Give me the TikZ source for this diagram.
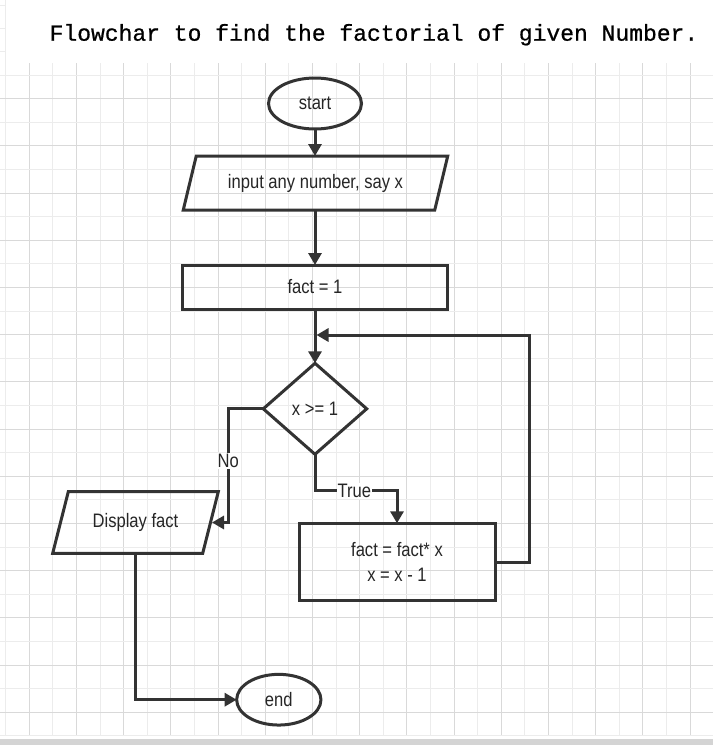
\documentclass[tikz,border=0pt]{standalone}
\usepackage{fontspec}
\usetikzlibrary{shapes.geometric,arrows.meta}
\newfontfamily\diafont[FakeStretch=0.85]{Liberation Sans}
\newfontfamily\titlefont[FakeBold=0.7]{Liberation Mono}
\definecolor{inkgray}{HTML}{333333}
\definecolor{gridlight}{HTML}{ECECEC}
\definecolor{griddark}{HTML}{D9D9D9}
\definecolor{barcol}{HTML}{D4D4D4}
\tikzset{
	flow/.style={draw=inkgray, line width=3pt, inner sep=0pt, outer sep=0pt, text=black!85,
		font=\diafont\fontsize{19.5}{25}\selectfont},
	terminal/.style={flow, ellipse},
	iobox/.style={flow, draw=none, rectangle},
	ioline/.style={draw=inkgray, line width=3pt, line join=miter},
	procbox/.style={flow, rectangle, align=center},
	decision/.style={flow, diamond},
	arrow/.style={draw=inkgray, line width=3pt, -{Triangle[length=12pt,width=13pt]}},
	lbl/.style={fill=white, inner sep=1pt, text=black!85, font=\diafont\fontsize{19.5}{25}\selectfont}
}
% slanted outline round an io node: #1 node name, #2 half the slant
\newcommand\drawslant[2]{%
	\draw[ioline] ([xshift=#2]#1.north west) -- ([xshift=#2]#1.north east)
		-- ([xshift=-#2]#1.south east) -- ([xshift=-#2]#1.south west) -- cycle;}
\begin{document}
\begin{tikzpicture}[x=1pt,y=-1pt]
		\useasboundingbox (0,0) rectangle (713,745);
		\fill[white] (0,0) rectangle (713,745);
		% grid paper
		\foreach \k in {0,...,29}{
			\ifodd\k \def\gc{griddark}\else \def\gc{gridlight}\fi
			\draw[\gc, line width=1pt] ({5.7+23.6*\k},63) -- ({5.7+23.6*\k},736);
		}
		\foreach \j in {0,...,28}{
			\ifodd\j \def\gc{griddark}\else \def\gc{gridlight}\fi
			\draw[\gc, line width=1pt] (0,{75+23.6*\j}) -- (713,{75+23.6*\j});
		}
		\draw[gridlight, line width=1pt] (5.7,0) -- (5.7,63);
		\foreach \y in {5,28.3,51.7}{
			\draw[gridlight, line width=1pt] (0,\y) -- (5.7,\y);
		}
		\fill[barcol] (0,739) rectangle (713,745);
		
		% title
		\node[anchor=base, font=\titlefont\fontsize{23}{28}\selectfont] (title) at (374,40.7)
			{Flowchar to find the factorial of given Number.};
		
		% flowchart nodes
		\node[terminal, minimum width=93pt, minimum height=51pt] (start) at (315,103.5) {start};
		\node[iobox, minimum width=251.5pt, minimum height=54pt] (input) at (315.5,183) {input any number, say x};
		\drawslant{input}{6.5pt}
		\node[procbox, minimum width=264.4pt, minimum height=44pt] (fact1) at (315,287) {fact = 1};
		\node[decision, minimum width=103.4pt, minimum height=91pt] (dec) at (315,408.8) {x >= 1};
		\node[procbox, minimum width=196pt, minimum height=77.4pt] (calc) at (397,562) {fact = fact* x\\x = x - 1};
		\node[iobox, minimum width=150pt, minimum height=61.6pt] (display) at (135.5,522.5) {Display fact};
		\drawslant{display}{7.8pt}
		\node[terminal, minimum width=84.3pt, minimum height=50.7pt] (end) at (278.8,699.7) {end};
		\coordinate (join) at (316.5,335);
		\coordinate (loopcorner) at (529.3,335);
		
		% connectors
		\draw[arrow] (start.south) -- (start.south |- input.north);
		\draw[arrow] (start.south |- input.south) -- (fact1.north);
		\draw[arrow] (fact1.south) -- (dec.north);
		\draw[arrow] (dec.west) -- ++(-35,0) |- node[lbl, pos=0.23] {No} ([xshift=1.5pt]display.east);
		\draw[arrow] (dec.south) -- ++(0,36.4) -| node[lbl, pos=0.24] {True} (calc.north);
		\draw[arrow] (calc.east) -| (loopcorner) -- (join);
		\draw[arrow] (display.south) |- (end.west);
	\end{tikzpicture}
\end{document}
